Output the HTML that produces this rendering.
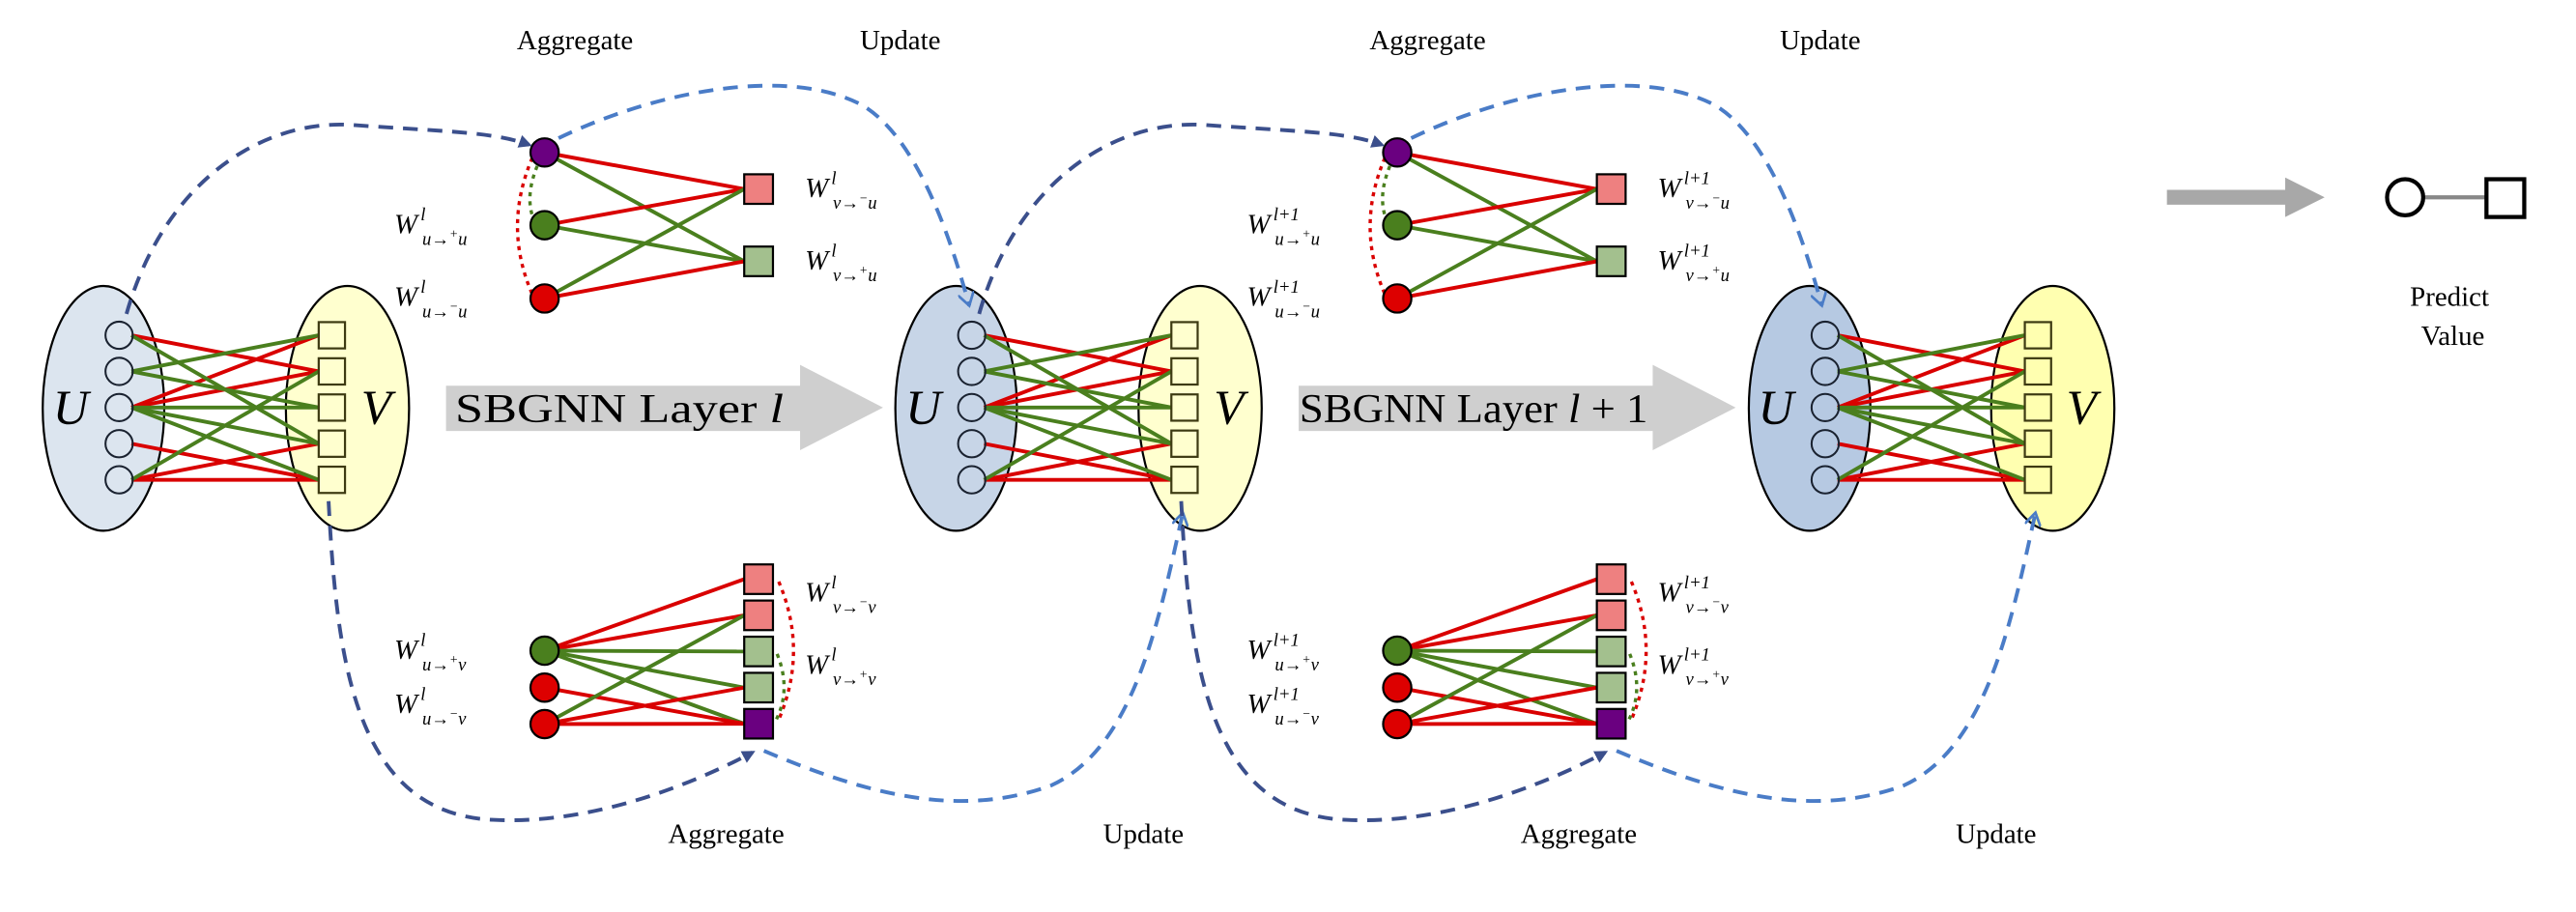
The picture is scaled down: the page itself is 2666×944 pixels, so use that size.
<!DOCTYPE html>
<html><head><meta charset="utf-8"><style>
html,body{margin:0;padding:0;background:#fff;}
svg{display:block;}
text{font-family:"Liberation Serif",serif;fill:#000;}
.lbl{font-size:17px;}
.w{font-style:italic;font-size:17px;}
.s{font-size:11px;font-style:italic;}
</style></head><body>
<svg width="2666" height="944" viewBox="0 0 1568 555" xmlns="http://www.w3.org/2000/svg">
<defs>
<marker id="ad" markerWidth="8" markerHeight="8" refX="6" refY="4" orient="auto" markerUnits="userSpaceOnUse"><path d="M0,0 L8,4 L0,8 Z" fill="#3b4f8c"/></marker>
<marker id="al" markerWidth="10" markerHeight="10" refX="8" refY="5" orient="auto" markerUnits="userSpaceOnUse"><path d="M0,0 L8,5 L0,10" fill="none" stroke="#4a7cc7" stroke-width="1.6"/></marker>
<g id="bip">
 <g stroke-width="2.3">
  <line x1="80" y1="204" x2="194" y2="226" stroke="#d90000"/>
  <line x1="80" y1="248" x2="194" y2="204" stroke="#d90000"/>
  <line x1="80" y1="248" x2="194" y2="226" stroke="#d90000"/>
  <line x1="80" y1="270" x2="194" y2="292" stroke="#d90000"/>
  <line x1="80" y1="292" x2="194" y2="270" stroke="#d90000"/>
  <line x1="80" y1="292" x2="194" y2="292" stroke="#d90000"/>
  <line x1="80" y1="204" x2="194" y2="270" stroke="#4a7f1e"/>
  <line x1="80" y1="226" x2="194" y2="204" stroke="#4a7f1e"/>
  <line x1="80" y1="226" x2="194" y2="248" stroke="#4a7f1e"/>
  <line x1="80" y1="248" x2="194" y2="248" stroke="#4a7f1e"/>
  <line x1="80" y1="248" x2="194" y2="270" stroke="#4a7f1e"/>
  <line x1="80" y1="248" x2="194" y2="292" stroke="#4a7f1e"/>
  <line x1="80" y1="292" x2="194" y2="226" stroke="#4a7f1e"/>
 </g>
 <g fill="none" stroke="#1a2230" stroke-width="1.2">
  <circle cx="72.5" cy="204" r="8.3"/><circle cx="72.5" cy="226" r="8.3"/><circle cx="72.5" cy="248" r="8.3"/><circle cx="72.5" cy="270" r="8.3"/><circle cx="72.5" cy="292" r="8.3"/>
 </g>
 <g fill="none" stroke="#3d3a12" stroke-width="1.3">
  <rect x="194" y="196" width="16" height="16"/><rect x="194" y="218" width="16" height="16"/><rect x="194" y="240" width="16" height="16"/><rect x="194" y="262" width="16" height="16"/><rect x="194" y="284" width="16" height="16"/>
 </g>
</g>
<g id="topagg">
 <path d="M324,96 Q306,138 324,179" fill="none" stroke="#d90000" stroke-width="2" stroke-dasharray="2.5,3"/>
 <path d="M327,101 Q320,118 324,131" fill="none" stroke="#4a7f1e" stroke-width="2" stroke-dasharray="2.5,3"/>
 <g stroke-width="2.3">
  <line x1="331.5" y1="92.7" x2="453" y2="115" stroke="#d90000"/>
  <line x1="331.5" y1="92.7" x2="453" y2="159" stroke="#4a7f1e"/>
  <line x1="331.5" y1="137" x2="453" y2="115" stroke="#d90000"/>
  <line x1="331.5" y1="137" x2="453" y2="159" stroke="#4a7f1e"/>
  <line x1="331.5" y1="181.6" x2="453" y2="115" stroke="#4a7f1e"/>
  <line x1="331.5" y1="181.6" x2="453" y2="159" stroke="#d90000"/>
 </g>
 <g stroke="#000" stroke-width="1.3">
  <circle cx="331.5" cy="92.7" r="8.6" fill="#6a0080"/>
  <circle cx="331.5" cy="137" r="8.6" fill="#4a7f1e"/>
  <circle cx="331.5" cy="181.6" r="8.6" fill="#dd0000"/>
  <rect x="453" y="106" width="17.5" height="18" fill="#ee8080"/>
  <rect x="453" y="150" width="17.5" height="18" fill="#a3c08e"/>
 </g>
</g>
<g id="botagg">
 <path d="M474,354 Q492,396 474,438" fill="none" stroke="#d90000" stroke-width="2" stroke-dasharray="2.5,3"/>
 <path d="M473,398 Q482,420 472,439" fill="none" stroke="#4a7f1e" stroke-width="2" stroke-dasharray="2.5,3"/>
 <g stroke-width="2.3">
  <line x1="331.5" y1="396" x2="453" y2="352.5" stroke="#d90000"/>
  <line x1="331.5" y1="396" x2="453" y2="374.5" stroke="#d90000"/>
  <line x1="331.5" y1="396" x2="453" y2="396.5" stroke="#4a7f1e"/>
  <line x1="331.5" y1="396" x2="453" y2="418.5" stroke="#4a7f1e"/>
  <line x1="331.5" y1="396" x2="453" y2="440.5" stroke="#4a7f1e"/>
  <line x1="331.5" y1="418.5" x2="453" y2="440.5" stroke="#d90000"/>
  <line x1="331.5" y1="440.7" x2="453" y2="418.5" stroke="#d90000"/>
  <line x1="331.5" y1="440.7" x2="453" y2="440.5" stroke="#d90000"/>
  <line x1="331.5" y1="440.7" x2="453" y2="374.5" stroke="#4a7f1e"/>
 </g>
 <g stroke="#000" stroke-width="1.3">
  <circle cx="331.5" cy="396" r="8.6" fill="#4a7f1e"/>
  <circle cx="331.5" cy="418.5" r="8.6" fill="#dd0000"/>
  <circle cx="331.5" cy="440.7" r="8.6" fill="#dd0000"/>
  <rect x="453" y="343.5" width="17.5" height="18" fill="#ee8080"/>
  <rect x="453" y="365.5" width="17.5" height="18" fill="#ee8080"/>
  <rect x="453" y="387.5" width="17.5" height="18" fill="#a3c08e"/>
  <rect x="453" y="409.5" width="17.5" height="18" fill="#a3c08e"/>
  <rect x="453" y="431.5" width="17.5" height="18" fill="#6a0080"/>
 </g>
</g>
<g id="curves" fill="none" stroke-width="2.3" stroke-dasharray="9,6">
 <path d="M77,191 C100,110 160,72 215,76 S300,80 322,88" stroke="#3b4f8c" marker-end="url(#ad)"/>
 <path d="M340,84 C400,55 480,40 525,64 C560,85 580,150 590,186" stroke="#4a7cc7" marker-end="url(#al)"/>
 <path d="M200,305 C205,400 215,495 300,499 C360,502 420,478 458,458" stroke="#3b4f8c" marker-end="url(#ad)"/>
 <path d="M465,457 C520,480 580,500 640,478 C690,455 705,380 720,312" stroke="#4a7cc7" marker-end="url(#al)"/>
</g>
<g id="bigarrow"><path d="M271.5,234.7 H487 V222 L537.5,248 L487,274 V262.3 H271.5 Z" fill="#cfcfcf"/></g>
</defs>

<!-- ellipses -->
<ellipse cx="63" cy="248.5" rx="37" ry="74.5" fill="#dce5ef" stroke="#000" stroke-width="1.3"/>
<ellipse cx="211.5" cy="248.5" rx="37.5" ry="74.5" fill="#ffffcf" stroke="#000" stroke-width="1.3"/>
<ellipse cx="582" cy="248.5" rx="37" ry="74.5" fill="#c7d5e7" stroke="#000" stroke-width="1.3"/>
<ellipse cx="730.5" cy="248.5" rx="37.5" ry="74.5" fill="#ffffcf" stroke="#000" stroke-width="1.3"/>
<ellipse cx="1101.5" cy="248.5" rx="37" ry="74.5" fill="#b6c9e2" stroke="#000" stroke-width="1.3"/>
<ellipse cx="1249.5" cy="248.5" rx="37.5" ry="74.5" fill="#ffffb0" stroke="#000" stroke-width="1.3"/>

<use href="#bip"/>
<use href="#bip" transform="translate(519,0)"/>
<use href="#bip" transform="translate(1038.5,0)"/>

<text x="43" y="258" font-size="30" font-style="italic" text-anchor="middle">U</text>
<text x="229" y="258" font-size="30" font-style="italic" text-anchor="middle">V</text>
<text x="562" y="258" font-size="30" font-style="italic" text-anchor="middle">U</text>
<text x="748" y="258" font-size="30" font-style="italic" text-anchor="middle">V</text>
<text x="1081" y="258" font-size="30" font-style="italic" text-anchor="middle">U</text>
<text x="1267" y="258" font-size="30" font-style="italic" text-anchor="middle">V</text>

<use href="#topagg"/>
<use href="#topagg" transform="translate(519,0)"/>
<use href="#botagg"/>
<use href="#botagg" transform="translate(519,0)"/>

<use href="#bigarrow"/>
<use href="#bigarrow" transform="translate(519,0)"/>
<text x="277" y="257" font-size="25" textLength="200" lengthAdjust="spacingAndGlyphs">SBGNN Layer <tspan font-style="italic">l</tspan></text>
<text x="791" y="257" font-size="25" textLength="212" lengthAdjust="spacingAndGlyphs">SBGNN Layer <tspan font-style="italic">l</tspan> + 1</text>

<use href="#curves"/>
<use href="#curves" transform="translate(519,0)"/>

<!-- top labels -->
<text class="lbl" x="350" y="30" text-anchor="middle">Aggregate</text>
<text class="lbl" x="548" y="30" text-anchor="middle">Update</text>
<text class="lbl" x="869" y="30" text-anchor="middle">Aggregate</text>
<text class="lbl" x="1108" y="30" text-anchor="middle">Update</text>
<text class="lbl" x="442" y="513" text-anchor="middle">Aggregate</text>
<text class="lbl" x="696" y="513" text-anchor="middle">Update</text>
<text class="lbl" x="961" y="513" text-anchor="middle">Aggregate</text>
<text class="lbl" x="1215" y="513" text-anchor="middle">Update</text>

<!-- W labels block 1 -->
<text class="w" x="240" y="142">W</text><text class="s" x="256" y="134">l</text><text class="s" x="257" y="149">u→<tspan dy="-4" font-size="8">+</tspan><tspan dy="4">u</tspan></text>
<text class="w" x="240" y="186">W</text><text class="s" x="256" y="178">l</text><text class="s" x="257" y="193">u→<tspan dy="-4" font-size="8">−</tspan><tspan dy="4">u</tspan></text>
<text class="w" x="490" y="120">W</text><text class="s" x="506" y="112">l</text><text class="s" x="507" y="127">v→<tspan dy="-4" font-size="8">−</tspan><tspan dy="4">u</tspan></text>
<text class="w" x="490" y="164">W</text><text class="s" x="506" y="156">l</text><text class="s" x="507" y="171">v→<tspan dy="-4" font-size="8">+</tspan><tspan dy="4">u</tspan></text>
<text class="w" x="240" y="401">W</text><text class="s" x="256" y="393">l</text><text class="s" x="257" y="408">u→<tspan dy="-4" font-size="8">+</tspan><tspan dy="4">v</tspan></text>
<text class="w" x="240" y="434">W</text><text class="s" x="256" y="426">l</text><text class="s" x="257" y="441">u→<tspan dy="-4" font-size="8">−</tspan><tspan dy="4">v</tspan></text>
<text class="w" x="490" y="366">W</text><text class="s" x="506" y="358">l</text><text class="s" x="507" y="373">v→<tspan dy="-4" font-size="8">−</tspan><tspan dy="4">v</tspan></text>
<text class="w" x="490" y="410">W</text><text class="s" x="506" y="402">l</text><text class="s" x="507" y="417">v→<tspan dy="-4" font-size="8">+</tspan><tspan dy="4">v</tspan></text>

<!-- W labels block 2 -->
<text class="w" x="759" y="142">W</text><text class="s" x="775" y="134">l+1</text><text class="s" x="776" y="149">u→<tspan dy="-4" font-size="8">+</tspan><tspan dy="4">u</tspan></text>
<text class="w" x="759" y="186">W</text><text class="s" x="775" y="178">l+1</text><text class="s" x="776" y="193">u→<tspan dy="-4" font-size="8">−</tspan><tspan dy="4">u</tspan></text>
<text class="w" x="1009" y="120">W</text><text class="s" x="1025" y="112">l+1</text><text class="s" x="1026" y="127">v→<tspan dy="-4" font-size="8">−</tspan><tspan dy="4">u</tspan></text>
<text class="w" x="1009" y="164">W</text><text class="s" x="1025" y="156">l+1</text><text class="s" x="1026" y="171">v→<tspan dy="-4" font-size="8">+</tspan><tspan dy="4">u</tspan></text>
<text class="w" x="759" y="401">W</text><text class="s" x="775" y="393">l+1</text><text class="s" x="776" y="408">u→<tspan dy="-4" font-size="8">+</tspan><tspan dy="4">v</tspan></text>
<text class="w" x="759" y="434">W</text><text class="s" x="775" y="426">l+1</text><text class="s" x="776" y="441">u→<tspan dy="-4" font-size="8">−</tspan><tspan dy="4">v</tspan></text>
<text class="w" x="1009" y="366">W</text><text class="s" x="1025" y="358">l+1</text><text class="s" x="1026" y="373">v→<tspan dy="-4" font-size="8">−</tspan><tspan dy="4">v</tspan></text>
<text class="w" x="1009" y="410">W</text><text class="s" x="1025" y="402">l+1</text><text class="s" x="1026" y="417">v→<tspan dy="-4" font-size="8">+</tspan><tspan dy="4">v</tspan></text>

<!-- predict -->
<path d="M1319,115.5 H1391 V108 L1415,120 L1391,132 V124.5 H1319 Z" fill="#a8a8a8"/>
<line x1="1476" y1="120" x2="1513" y2="120" stroke="#888" stroke-width="2.5"/>
<circle cx="1464" cy="120" r="11" fill="#fff" stroke="#000" stroke-width="2.5"/>
<rect x="1513.5" y="109" width="23" height="23" fill="#fff" stroke="#000" stroke-width="2.5"/>
<text x="1491" y="186" font-size="17" text-anchor="middle">Predict</text>
<text x="1493" y="210" font-size="17" text-anchor="middle">Value</text>
</svg>
</body></html>
